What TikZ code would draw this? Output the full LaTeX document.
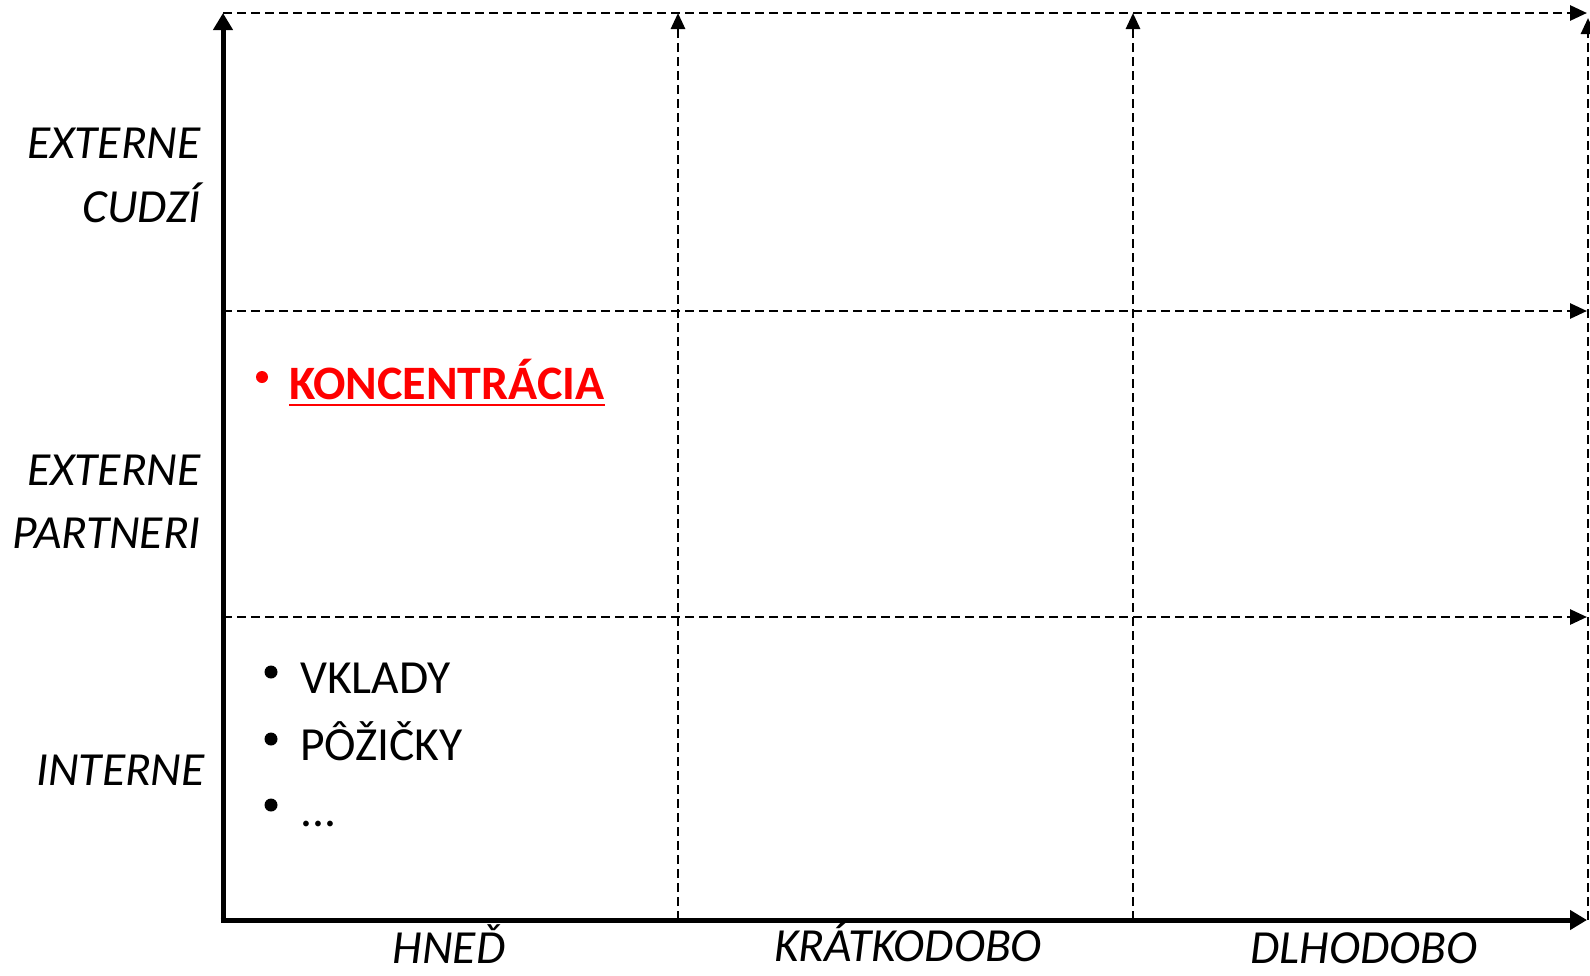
\documentclass[tikz,border=0pt]{standalone}
\usepackage{fontspec}
\setmainfont{Carlito}
\usetikzlibrary{arrows.meta}
\definecolor{kred}{RGB}{255,0,0}
\tikzset{
  axisline/.style={line width=5pt, -{Triangle[length=17pt,width=19pt]}},
  gridh/.style={line width=2.8pt, dash pattern=on 9pt off 5pt, -{Triangle[length=17pt,width=15pt]}},
  gridv/.style={line width=2.8pt, dash pattern=on 9pt off 5pt, -{Triangle[length=16pt,width=14pt]}},
  rowlab/.style={inner sep=0pt, anchor=base east, font=\fontsize{47.5}{56}\selectfont\itshape},
  collab/.style={inner sep=0pt, anchor=base, font=\fontsize{47.5}{56}\selectfont\itshape},
  item/.style={inner sep=0pt, anchor=base west, font=\fontsize{47.5}{56}\selectfont},
  reditem/.style={inner sep=0pt, anchor=base west, text=kred, font=\fontsize{48}{56}\selectfont\bfseries},
}
\begin{document}
\begin{tikzpicture}[x=1pt,y=-1pt]
\useasboundingbox (0,0) rectangle (1590,975);
% grid coordinates
\coordinate (o) at (223,920);
\coordinate (top) at (223,13);
\coordinate (xe) at (1587,920);
\coordinate (h0s) at (223,13);  \coordinate (h0e) at (1587,13);
\coordinate (h1s) at (223,311); \coordinate (h1e) at (1587,311);
\coordinate (h2s) at (223,617); \coordinate (h2e) at (1587,617);
\coordinate (v1s) at (678,920); \coordinate (v1e) at (678,13);
\coordinate (v2s) at (1133,920); \coordinate (v2e) at (1133,13);
\coordinate (v3s) at (1588,920); \coordinate (v3e) at (1588,18);
% dashed grid
\draw[gridh] (h0s) -- (h0e);
\draw[gridh] (h1s) -- (h1e);
\draw[gridh] (h2s) -- (h2e);
\draw[gridv] (v1s) -- (v1e);
\draw[gridv] (v2s) -- (v2e);
\draw[gridv] (v3s) -- (v3e);
% axes
\draw[axisline] ([xshift=-2.5pt]o) -- (xe);
\draw[axisline] (o) -- (top);
% row labels
\node[rowlab] (r1a) at (201,158) {EXTERNE};
\node[rowlab] (r1b) at (201,222) {CUDZÍ};
\node[rowlab] (r2a) at (201,485) {EXTERNE};
\node[rowlab] (r2b) at (201,548) {PARTNERI};
\node[rowlab] (r3) at (205,785) {INTERNE};
% column labels
\node[collab] (c1) at (449,963) {HNEĎ};
\node[collab] (c2) at (908,961) {KRÁTKODOBO};
\node[collab] (c3) at (1364,963) {DLHODOBO};
% red item
\node[reditem] (kon) at (289,399) {KONCENTRÁCIA};
\draw[kred, line width=2.6pt] ([yshift=-6pt]kon.base west) -- ([yshift=-6pt]kon.base east);
\fill[kred] ([xshift=-27pt,yshift=22pt]kon.base west) circle (6pt);
% black items
\node[item] (vk) at (300,693) {VKLADY};
\node[item] (po) at (300,760) {PÔŽIČKY};
\node[item] (dd) at (300,826) {...};
\foreach \n in {vk,po,dd}
  \fill ([xshift=-29pt,yshift=21pt]\n.base west) circle (6.5pt);
\end{tikzpicture}
\end{document}
